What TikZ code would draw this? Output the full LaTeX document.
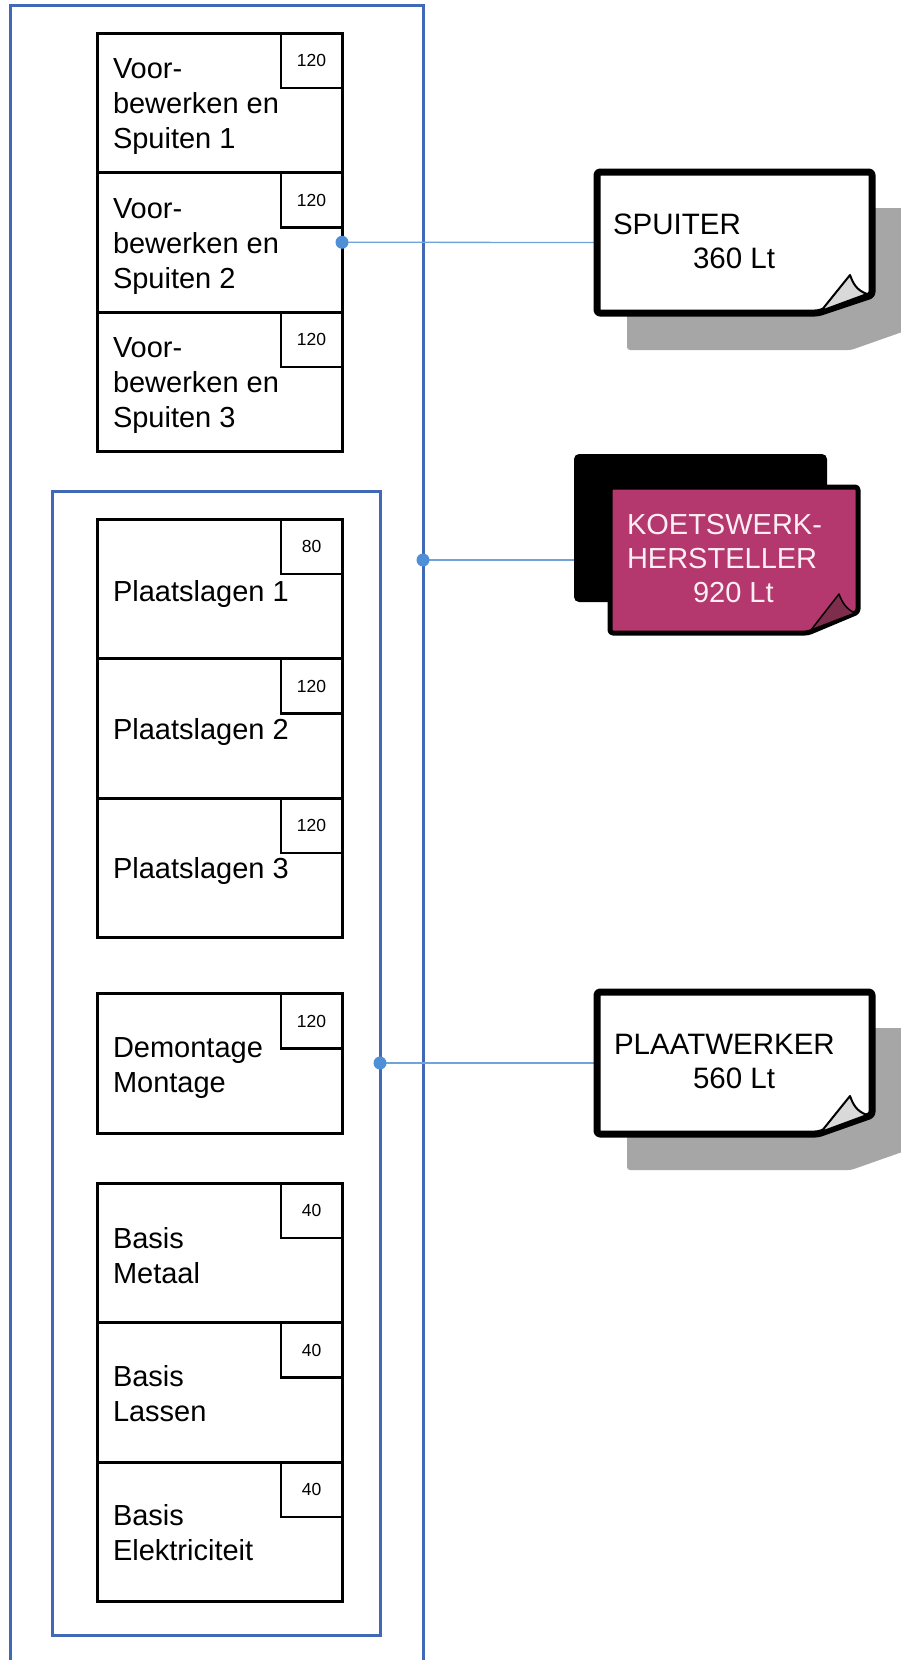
\documentclass[tikz,border=0pt]{standalone}
\usepackage{fontspec}
\setmainfont{Liberation Sans}
\definecolor{frameblue}{HTML}{4169B8}
\definecolor{connblue}{HTML}{6FA3DA}
\definecolor{dotblue}{HTML}{4F8FD8}
\definecolor{notepink}{HTML}{B4376E}
\definecolor{curlmaroon}{HTML}{7E2E4C}
\definecolor{shadowgrey}{HTML}{A6A6A6}
\definecolor{curlgrey}{HTML}{D9D9D9}
\definecolor{lighttext}{HTML}{FBEFF4}
\tikzset{
  frame/.style={draw=frameblue, line width=3pt, inner sep=0pt, outer sep=0pt},
  stbox/.style={draw=black, fill=white, line width=3pt, minimum width=245pt, minimum height=139.5pt, inner sep=0pt, outer sep=0pt},
  numbox/.style={draw=black, line width=2.5pt, minimum width=61pt, minimum height=55pt, inner sep=0pt, outer sep=0pt, font=\fontsize{17.5}{20}\selectfont},
  lbl/.style={inner sep=0pt, outer sep=0pt, align=left, font=\fontsize{29}{35}\selectfont},
  notearea/.style={inner sep=0pt, outer sep=0pt},
  notetext/.style={inner sep=0pt, outer sep=0pt, align=left, font=\fontsize{29.5}{34}\selectfont},
  conn/.style={draw=connblue, line width=1.3pt},
  cdot/.style={fill=dotblue},
  noteline/.style={draw=black, line width=7pt, rounded corners=3pt, line join=round},
  curlline/.style={draw=black, line width=2pt, line join=round}
}
\newcommand{\stn}[5]{%
  \node[stbox, anchor=north west] (#1) at (97,#2) {};
  \node[numbox, anchor=north east] (#1n) at (#1.north east) {#4};
  \node[lbl, anchor=north west] (#1l) at ({113},{#2+#5}) {#3};
}
\begin{document}
\begin{tikzpicture}[x=1pt,y=-1pt]
\useasboundingbox (0,0) rectangle (900,1660);
\fill[white] (0,0) rectangle (900,1660);

% frames
\node[frame, minimum width=413pt, minimum height=1700pt, anchor=north west] (outer) at (10,5) {};
\node[frame, minimum width=328pt, minimum height=1144pt, anchor=north west] (inner) at (52,491) {};

% stations
\stn{v1}{33}{Voor-\\bewerken en\\Spuiten 1}{120}{26}
\stn{v2}{172.5}{Voor-\\bewerken en\\Spuiten 2}{120}{26}
\stn{v3}{312}{Voor-\\bewerken en\\Spuiten 3}{120}{26}
\stn{p1}{519}{Plaatslagen 1}{80}{61}
\stn{p2}{658.5}{Plaatslagen 2}{120}{60}
\stn{p3}{798}{Plaatslagen 3}{120}{59}
\stn{dm}{993.5}{Demontage\\Montage}{120}{44.5}
\stn{b1}{1183}{Basis\\Metaal}{40}{44}
\stn{b2}{1322.5}{Basis\\Lassen}{40}{43}
\stn{b3}{1462}{Basis\\Elektriciteit}{40}{42}

% note areas (anchors for connectors)
\node[notearea, minimum width=275pt, minimum height=141pt] (spuiter) at (734.5,242.5) {};
\node[notearea, minimum width=248pt, minimum height=146pt] (koets) at (734,560) {};
\node[notearea, minimum width=275pt, minimum height=142pt] (plaat) at (734.5,1063) {};

% connectors
\draw[conn] (v2.east) -- (spuiter.west);
\draw[conn] (koets.west -| outer.east) -- (koets.west);
\draw[conn] (plaat.west -| inner.east) -- (plaat.west);
\fill[cdot] (v2.east) circle (6.5);
\fill[cdot] (koets.west -| outer.east) circle (6.5);
\fill[cdot] (plaat.west -| inner.east) circle (6.5);

% SPUITER note
\fill[shadowgrey, rounded corners=3pt] (627,208) -- (905,208) -- (905,331) -- (851,350) -- (627,350) -- cycle;
\path[noteline, fill=white] (597,172) -- (872,172) -- (872,295) -- (818,313) -- (597,313) -- cycle;
\path[curlline, fill=curlgrey] (821,311) -- (850,275) .. controls (853,283) and (856,290) .. (867,294) -- cycle;
\node[notetext, anchor=north west] (spuitert) at (613,214) {SPUITER\\\hspace*{80pt}360 Lt};

% KOETSWERKHERSTELLER note
\fill[black, rounded corners=5pt] (574,454) rectangle (827,602);
\path[draw=black, line width=5pt, rounded corners=3pt, line join=round, fill=notepink] (610,487) -- (858,487) -- (858,612) -- (808,633) -- (610,633) -- cycle;
\path[draw=black, line width=1.5pt, line join=round, fill=curlmaroon] (811,630) -- (839,594) .. controls (842,602) and (846,609) .. (855,613) -- cycle;
\node[notetext, anchor=north west, text=lighttext, font=\fontsize{29}{34}\selectfont] (koetst) at (627,514.5) {KOETSWERK-\\HERSTELLER\\\hspace*{66pt}920 Lt};

% PLAATWERKER note
\fill[shadowgrey, rounded corners=3pt] (627,1028) -- (905,1028) -- (905,1151) -- (851,1170) -- (627,1170) -- cycle;
\path[noteline, fill=white] (597,992) -- (872,992) -- (872,1115) -- (818,1134) -- (597,1134) -- cycle;
\path[curlline, fill=curlgrey] (821,1132) -- (850,1096) .. controls (853,1104) and (856,1111) .. (867,1115) -- cycle;
\node[notetext, anchor=north west] (plaatt) at (614,1034) {PLAATWERKER\\\hspace*{79pt}560 Lt};
\end{tikzpicture}
\end{document}
